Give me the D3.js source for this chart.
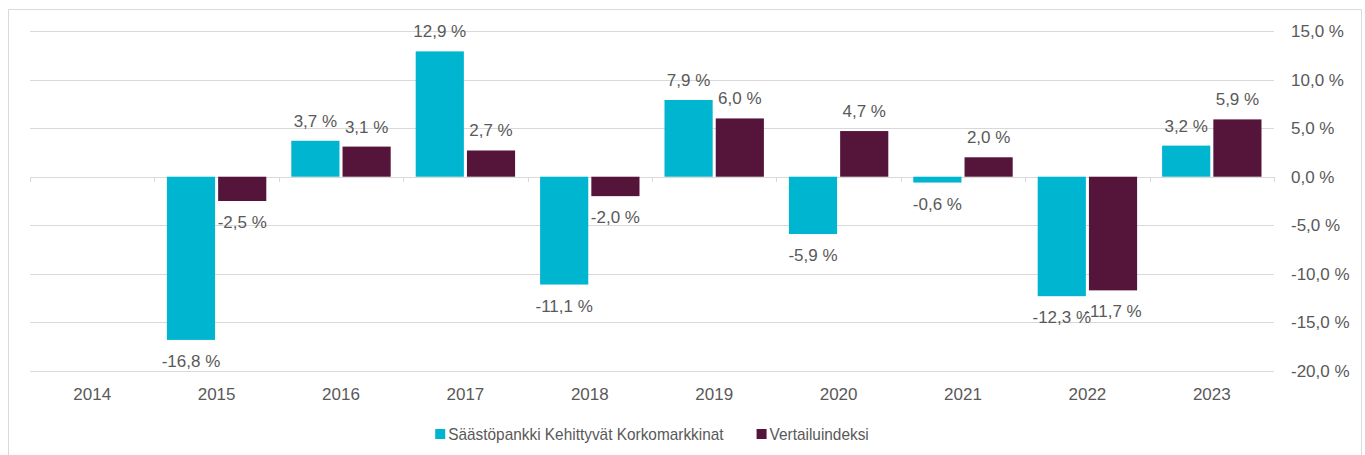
<!DOCTYPE html>
<html>
<head>
<meta charset="utf-8">
<script src="https://cdn.jsdelivr.net/npm/d3@7"></script>
<style>
  body { margin: 0; background: #fff; }
  text { font-family: "Liberation Sans", Arial, sans-serif; fill: #595959; }
</style>
</head>
<body>
<div id="chart"></div>
<script>
// data
var years = ['2014','2015','2016','2017','2018','2019','2020','2021','2022','2023'];
var fundValues = [null, -16.8, 3.7, 12.9, -11.1, 7.9, -5.9, -0.6, -12.3, 3.2];
var indexValues = [null, -2.5, 3.1, 2.7, -2.0, 6.0, 4.7, 2.0, -11.7, 5.9];
var seriesNames = ['Säästöpankki Kehittyvät Korkomarkkinat', 'Vertailuindeksi'];
var yTicks = [15, 10, 5, 0, -5, -10, -15, -20];

var colors = ['#00B5CF', '#55153B'];
var w = 1365, h = 455;

var svg = d3.select('#chart').append('svg').attr('width', w).attr('height', h);

// outer frame
svg.append('path')
  .attr('d', 'M8.5,' + h + 'V9.5H1361.5V' + h)
  .attr('fill', 'none').attr('stroke', '#d9d9d9');

var x = d3.scaleBand().domain(years).range([30, 1274]).paddingInner(0).paddingOuter(0);
var y = d3.scaleLinear().domain([-20, 15]).range([371, 31]);
var inner = d3.scaleBand().domain([0, 1]).range([12.5, x.bandwidth() - 12.5]).paddingInner(0.06);

var fmt = function(v){ return d3.format('.1f')(v).replace('.', ',').replace('−', '-') + ' %'; };

// grid
svg.selectAll('.grid').data(yTicks).enter().append('line')
  .attr('x1', 30).attr('x2', 1274)
  .attr('y1', function(d){ return Math.round(y(d)) + 0.5; })
  .attr('y2', function(d){ return Math.round(y(d)) + 0.5; })
  .attr('stroke', '#d9d9d9').attr('stroke-width', 1);

// y labels on right
svg.selectAll('.ylab').data(yTicks).enter().append('text')
  .attr('x', 1291).attr('y', function(d){ return y(d) + 6; })
  .attr('font-size', 17)
  .text(fmt);

// category ticks on zero line
var bounds = years.map(function(d){ return x(d); }).concat([1274]);
svg.selectAll('.xtick').data(bounds).enter().append('line')
  .attr('x1', function(d){ return Math.round(d) + 0.5; })
  .attr('x2', function(d){ return Math.round(d) + 0.5; })
  .attr('y1', Math.round(y(0))).attr('y2', Math.round(y(0)) + 5)
  .attr('stroke', '#d9d9d9');

// bars
var series = [fundValues, indexValues];
series.forEach(function(vals, si){
  var pts = years.map(function(yr, i){ return {year: yr, v: vals[i]}; })
    .filter(function(d){ return d.v !== null; });
  svg.selectAll('.bar' + si).data(pts).enter().append('rect')
    .attr('x', function(d){ return x(d.year) + inner(si); })
    .attr('width', inner.bandwidth())
    .attr('y', function(d){ return y(Math.max(0, d.v)); })
    .attr('height', function(d){ return Math.abs(y(d.v) - y(0)); })
    .attr('fill', colors[si]);
  svg.selectAll('.lab' + si).data(pts).enter().append('text')
    .attr('x', function(d){ return x(d.year) + inner(si) + inner.bandwidth() / 2; })
    .attr('y', function(d){ return d.v >= 0 ? y(d.v) - 14 : y(d.v) + 27; })
    .attr('text-anchor', 'middle').attr('font-size', 17)
    .text(function(d){ return fmt(d.v); });
});

// x labels
svg.selectAll('.xlab').data(years).enter().append('text')
  .attr('x', function(d){ return x(d) + x.bandwidth() / 2; })
  .attr('y', 400)
  .attr('text-anchor', 'middle').attr('font-size', 17)
  .text(function(d){ return d; });

// legend (text a bit condensed like the original)
var legend = svg.append('g');
var lx = 0;
seriesNames.forEach(function(name, i){
  var g = legend.append('g').attr('transform', 'translate(' + lx + ',0)');
  g.append('rect').attr('x', 0).attr('y', 429).attr('width', 10).attr('height', 10).attr('fill', colors[i]);
  var t = g.append('text').attr('x', 13).attr('y', 440).attr('font-size', 17).text(name);
  var tw = t.node().getComputedTextLength() * 0.905;
  t.attr('textLength', tw).attr('lengthAdjust', 'spacingAndGlyphs');
  lx += 13 + tw + 33;
});
var lw = lx - 33;
legend.attr('transform', 'translate(' + (652 - lw / 2) + ',0)');
</script>
</body>
</html>
